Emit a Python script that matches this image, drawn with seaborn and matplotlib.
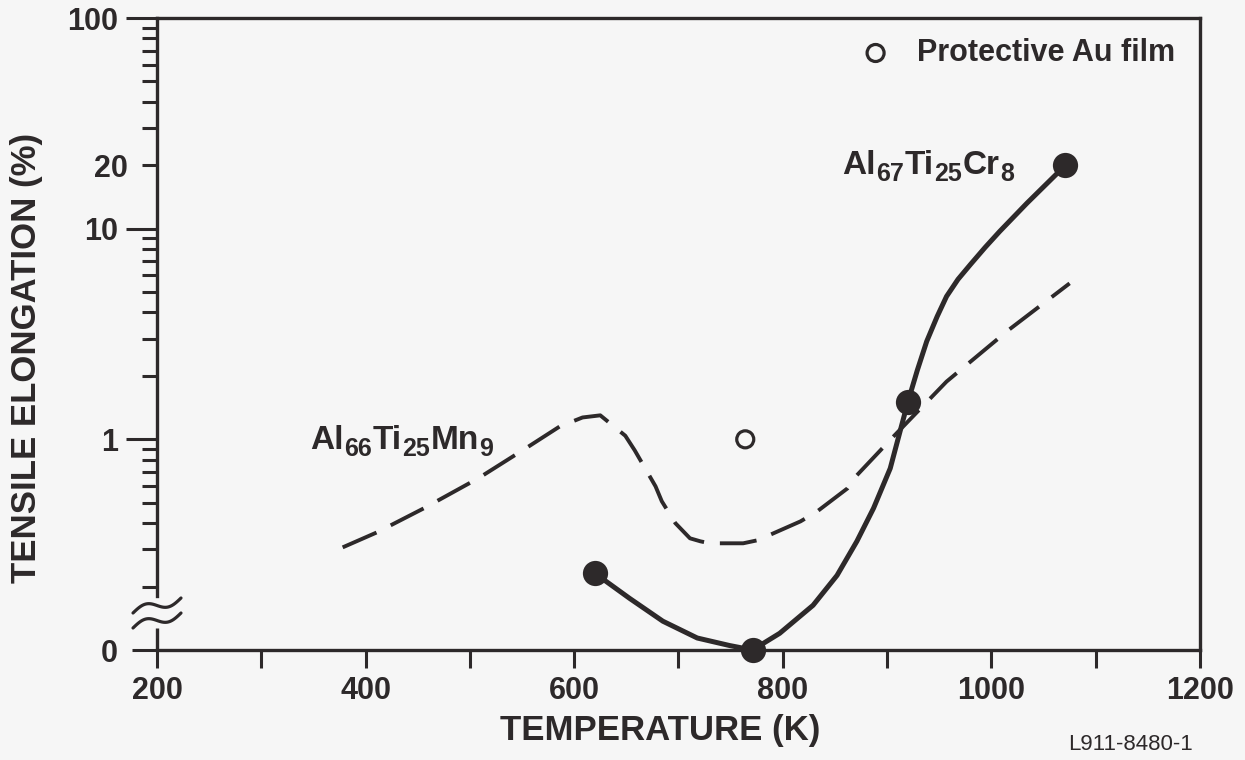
import numpy as np
import pandas as pd
import matplotlib
matplotlib.use("Agg")
import matplotlib.pyplot as plt
import seaborn as sns
from matplotlib.ticker import FixedLocator, FixedFormatter

# ---------------- data ----------------
# Al67Ti25Cr8 fitted curve (solid)
CR_CURVE_T = [620, 653, 685, 718, 749, 771, 797, 829, 852, 871, 887, 903, 920,
              929, 938, 948, 957, 968, 980, 994, 1008, 1034, 1071]
CR_CURVE_E = [0.231, 0.176, 0.137, 0.114, 0.105, 0.0, 0.12, 0.163, 0.226, 0.328,
              0.471, 0.728, 1.51, 2.13, 2.92, 3.83, 4.77, 5.75, 6.77, 8.15, 9.71,
              13.2, 20.0]
# Al67Ti25Cr8 measured points
CR_POINTS_T = [620, 771, 920, 1071]
CR_POINTS_E = [0.231, 0.0, 1.51, 20.0]
# Al66Ti25Mn9 curve (dashed)
MN_CURVE_T = [378, 411, 456, 508, 555, 586, 608, 625, 649, 658, 678, 684, 697,
              711, 721, 730, 762, 776, 817, 833, 862, 871, 906, 957, 1016, 1075]
MN_CURVE_E = [0.307, 0.362, 0.471, 0.653, 0.916, 1.15, 1.27, 1.30, 1.04, 0.887,
              0.598, 0.508, 0.40, 0.339, 0.328, 0.321, 0.321, 0.332, 0.408, 0.455,
              0.585, 0.675, 1.03, 1.88, 3.29, 5.50]
# Protective Au film point
AU_T = [764]
AU_E = [1.0]

X_MAJOR = [200, 400, 600, 800, 1000, 1200]
X_MINOR = [300, 500, 700, 900, 1100]
Y_MAJOR = [0.1, 1, 10, 100]
Y_MAJOR_LABELS = ["0", "1", "10", "100"]
Y_MINOR = [0.2, 0.3, 0.4, 0.5, 0.6, 0.7, 0.8, 0.9,
           2, 3, 4, 5, 6, 7, 8, 9,
           20, 30, 40, 50, 60, 70, 80, 90]
Y_MINOR_LABELS = ["" if v != 20 else "20" for v in Y_MINOR]
ZERO_FLOOR = 0.1   # "0" is drawn at the bottom of the broken log axis

CR_LABEL = [("Al", False), ("67", True), ("Ti", False), ("25", True),
            ("Cr", False), ("8", True)]
MN_LABEL = [("Al", False), ("66", True), ("Ti", False), ("25", True),
            ("Mn", False), ("9", True)]

INK = "#2d292a"
BG = "#f6f6f6"

sns.set_theme(style="ticks")
plt.rcParams["font.family"] = ["Liberation Sans", "DejaVu Sans"]
plt.rcParams["font.weight"] = "bold"
plt.rcParams["text.color"] = INK
plt.rcParams["axes.labelcolor"] = INK


def floor0(v):
    v = np.asarray(v, dtype=float)
    return np.where(v <= 0, ZERO_FLOOR, v)


fig = plt.figure(figsize=(12.45, 7.6), dpi=100, facecolor=BG)
ax = fig.add_axes([157 / 1245, 1 - 650 / 760, 1043 / 1245, 632 / 760])
ax.set_facecolor(BG)

cr = pd.DataFrame({"T": CR_CURVE_T, "E": floor0(CR_CURVE_E)})
mn = pd.DataFrame({"T": MN_CURVE_T, "E": MN_CURVE_E})

sns.lineplot(data=cr, x="T", y="E", ax=ax, color=INK, lw=3.6, estimator=None,
             sort=False, solid_capstyle="round", solid_joinstyle="round", zorder=3)
sns.lineplot(data=mn, x="T", y="E", ax=ax, color=INK, lw=2.8, estimator=None,
             sort=False, linestyle=(0, (9.5, 4.1)), dash_capstyle="butt",
             dash_joinstyle="round", zorder=3)
sns.scatterplot(x=CR_POINTS_T, y=floor0(CR_POINTS_E), ax=ax, s=330, color=INK,
                edgecolor=INK, linewidth=0, zorder=5, clip_on=False)
sns.scatterplot(x=AU_T, y=AU_E, ax=ax, s=150, marker="o", facecolors="none",
                edgecolors=INK, linewidths=2.3, zorder=5,
                label="Protective Au film")

ax.set_yscale("log")
ax.set_xlim(200, 1200)
ax.set_ylim(0.1, 100)

ax.xaxis.set_major_locator(FixedLocator(X_MAJOR))
ax.xaxis.set_minor_locator(FixedLocator(X_MINOR))
ax.yaxis.set_major_locator(FixedLocator(Y_MAJOR))
ax.yaxis.set_major_formatter(FixedFormatter(Y_MAJOR_LABELS))
ax.yaxis.set_minor_locator(FixedLocator(Y_MINOR))
ax.yaxis.set_minor_formatter(FixedFormatter(Y_MINOR_LABELS))

ax.tick_params(axis="x", which="both", direction="out", length=13, width=2.2,
               color=INK, labelcolor=INK, labelsize=22, pad=6)
ax.tick_params(axis="y", which="major", direction="out", length=22, width=2.2,
               color=INK, labelcolor=INK, labelsize=22, pad=6)
ax.tick_params(axis="y", which="minor", direction="out", length=11, width=2.2,
               color=INK, labelcolor=INK, labelsize=22, pad=10)
ax.yaxis.get_major_ticks()[0].tick1line.set_markersize(18)

for side in ["left", "right", "top", "bottom"]:
    ax.spines[side].set_color(INK)
    ax.spines[side].set_linewidth(2.4)
ax.spines["left"].set_bounds(0.18, 100)
# short piece of the y axis below the break
ax.axvline(ax.get_xlim()[0], 0, 0.035, color=INK, lw=2.4, solid_capstyle="butt",
           clip_on=False, zorder=4)
# axis-break wiggles
t = np.linspace(0, 1, 60)
wx = (-24 + 48 * t) / 1043
wy = (15 * t + 5 * np.sin(2 * np.pi * t)) / 632
for base in [(650 - 613) / 632, (650 - 628) / 632]:
    ax.plot(wx, base + wy, transform=ax.transAxes, color=INK, lw=2.3,
            clip_on=False, zorder=4)

for lab in ax.get_xticklabels() + ax.get_yticklabels(which="both"):
    lab.set_fontweight("bold")

ax.set_xlabel("TEMPERATURE (K)", fontsize=25, fontweight="bold", color=INK)
ax.set_ylabel("TENSILE ELONGATION (%)", fontsize=25, fontweight="bold", color=INK)
ax.xaxis.set_label_coords(0.482, -0.101)
ax.yaxis.set_label_coords(-0.109, 0.462)

renderer = fig.canvas.get_renderer()


def formula(x, y, pieces, main_size=24, sub_size=18, sub_drop=7, gap=0.5):
    off = 0.0
    for s, is_sub in pieces:
        txt = ax.annotate(s, xy=(x, y), xycoords="data",
                          xytext=(off, -sub_drop if is_sub else 0),
                          textcoords="offset pixels",
                          fontsize=sub_size if is_sub else main_size,
                          fontweight="bold", color=INK, ha="left", va="baseline")
        off += txt.get_window_extent(renderer).width + gap


formula(857, 18.1, CR_LABEL)
formula(347, 0.897, MN_LABEL)

leg = ax.legend(loc="center right", bbox_to_anchor=(0.976, 0.9446), frameon=False,
                prop={"size": 22, "weight": "bold", "family": "Liberation Sans"},
                handlelength=1.0, handletextpad=0.85, borderpad=0, borderaxespad=0)
for txt in leg.get_texts():
    txt.set_color(INK)

fig.text(1131 / 1245, 1 - 744 / 760, "L911-8480-1", ha="center", va="center",
         fontsize=16, fontweight="normal", color=INK)

fig.savefig("out.png", dpi=100, facecolor=BG)
